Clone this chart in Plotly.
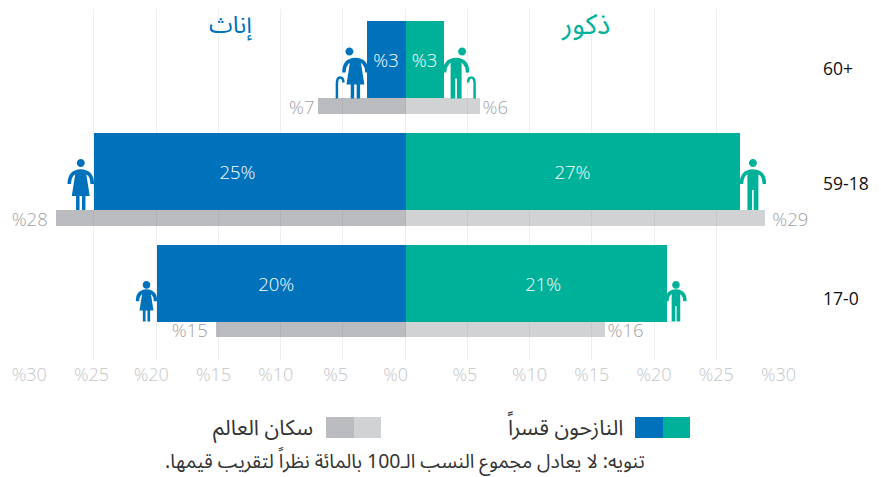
import plotly.graph_objects as go

W, H = 881, 477
PAGE = 8  # the page's own margin around the figure
FW, FH = W - PAGE, H - PAGE
categories = ["17-0", "59-18", "60+"]
female_displaced = [20, 25, 3.1]
male_displaced = [21, 26.9, 3.1]
female_world = [15.2, 28.05, 7]
male_world = [16, 28.9, 5.95]
female_labels = ["20%", "25%", "%3"]
male_labels = ["21%", "27%", "%3"]
female_world_labels = ["%15", "%28", "%7"]
male_world_labels = ["%16", "%29", "%6"]
tick_vals = [-30, -25, -20, -15, -10, -5, 0, 5, 10, 15, 20, 25, 30]
tick_text = ["%30", "%25", "%20", "%15", "%10", "%5", "%0", "%5", "%10", "%15", "%20", "%25", "%30"]

BLUE, GREEN = "#0072BC", "#00B19A"
GRAY_L, GRAY_R = "rgba(85,88,98,0.4)", "rgba(140,143,148,0.4)"
FONT = "Open Sans, Noto Sans, DejaVu Sans, sans-serif"
AR = "Noto Sans Arabic, DejaVu Sans, Noto Sans, sans-serif"
BAR_W, WORLD_W = 0.69, 0.14
BOT = -BAR_W / 2
NB = "\u00a0"


def pad(labels, before, after):
    """Optical nudges of a label, in no-break spaces."""
    return [NB * b + t + NB * a for t, b, a in zip(labels, before, after)]


def px(x):
    return (x - PAGE) / FW


def py(y):
    return 1 - (y - PAGE) / FH


def bar(vals, labels, color, width, offset, pos, font_color):
    return go.Bar(y=categories, x=vals, orientation="h", marker=dict(color=color, line_width=0),
                  width=width, offset=offset, text=labels, textposition=pos, textangle=0,
                  insidetextanchor="middle", constraintext="none", cliponaxis=False,
                  textfont=dict(family=FONT, size=18.5, color=font_color, weight=300), showlegend=False,
                  hoverinfo="skip")


fig = go.Figure()
neg = lambda a: [-v for v in a]
fig.add_trace(bar(neg(female_world), pad(female_world_labels, [0, 0, 0], [1, 1, 0]), GRAY_L, WORLD_W, BOT - WORLD_W, "outside", "#9FA1A4"))
fig.add_trace(bar(male_world, pad(male_world_labels, [0, 1, 0], [0, 0, 0]), GRAY_R, WORLD_W, BOT - WORLD_W, "outside", "#9FA1A4"))
fig.add_trace(bar(neg(female_displaced), pad(female_labels, [0, 0, 0], [2, 5, 0]), BLUE, BAR_W, BOT, "inside", "#FFFFFF"))
fig.add_trace(bar(male_displaced, pad(male_labels, [3, 0, 0], [0, 0, 0]), GREEN, BAR_W, BOT, "inside", "#FFFFFF"))

FOOT = 38.5  # px from the category centre to the bar bottom


def circle(cx, cy, r):
    k = 0.5523 * r
    return (f"M{cx-r},{cy} C{cx-r},{cy+k} {cx-k},{cy+r} {cx},{cy+r} C{cx+k},{cy+r} {cx+r},{cy+k} {cx+r},{cy} "
            f"C{cx+r},{cy-k} {cx+k},{cy-r} {cx},{cy-r} C{cx-k},{cy-r} {cx-r},{cy-k} {cx-r},{cy} Z")


def person(value, cat, female, color, side, centre, s=1.0, elder=False):
    """Icon next to the bar end: `centre` px outward, feet on the bar bottom."""
    cx = side * centre
    base = dict(type="path", xsizemode="pixel", ysizemode="pixel", xanchor=value * side, yanchor=cat,
                layer="above")
    Y = lambda v: round(v * s - FOOT, 2)
    X = lambda v: round(cx + v * s, 2)
    head = side * 6 if elder else 0
    out = []
    out.append(dict(base, path=circle(X(head), Y(47), 4 * max(s, .95)), fillcolor=color, line_width=0))
    out.append(dict(base, path=f"M{X(-11.5)},{Y(26)} Q{X(-11.5)},{Y(38.5)} {X(0)},{Y(39)} Q{X(11.5)},{Y(38.5)} {X(11.5)},{Y(26)}",
                    fillcolor="rgba(0,0,0,0)", line=dict(color=color, width=3.5)))
    if female:
        body = (f"M{X(-5)},{Y(39)} L{X(5)},{Y(39)} L{X(9)},{Y(14)} L{X(4.7)},{Y(14)} L{X(4.7)},{Y(0)} L{X(1.2)},{Y(0)} "
                f"L{X(1.2)},{Y(14)} L{X(-1.2)},{Y(14)} L{X(-1.2)},{Y(0)} L{X(-4.7)},{Y(0)} L{X(-4.7)},{Y(14)} L{X(-9)},{Y(14)} Z")
    else:
        body = (f"M{X(-5.5)},{Y(39)} L{X(5.5)},{Y(39)} L{X(5.5)},{Y(0)} L{X(0.8)},{Y(0)} L{X(0.8)},{Y(20)} "
                f"L{X(-0.8)},{Y(20)} L{X(-0.8)},{Y(0)} L{X(-5.5)},{Y(0)} Z")
    out.append(dict(base, path=body, fillcolor=color, line_width=0))
    if elder:
        c = cx + side * 18.5
        h = cx + side * 12
        out.append(dict(base, path=f"M{c},{Y(0)} L{c},{Y(15)} Q{c},{Y(21)} {(c+h)/2},{Y(21)} Q{h},{Y(21)} {h},{Y(16)}",
                        fillcolor="rgba(0,0,0,0)", line=dict(color=color, width=2.5)))
    return out


shapes = []
shapes += person(3.1, "60+", True, BLUE, -1, 11, elder=True)
shapes += person(3.1, "60+", False, GREEN, 1, 12.5, elder=True)
shapes += person(25, "59-18", True, BLUE, -1, 13)
shapes += person(26.9, "59-18", False, GREEN, 1, 13)
shapes += person(20, "17-0", True, BLUE, -1, 9.5, s=0.78)
shapes += person(21, "17-0", False, GREEN, 1, 9.5, s=0.78)


def swatch(x0, x1, color):
    return dict(type="rect", xref="paper", yref="paper", x0=px(x0), x1=px(x1), y0=py(438), y1=py(417),
                fillcolor=color, line_width=0)


shapes += [swatch(635, 663, BLUE), swatch(663, 690, GREEN), swatch(326, 354, GRAY_L), swatch(354, 381, GRAY_R)]


def note(text, x, y, size, color, anchor="center", family=AR, weight=400):
    return dict(text=text, xref="paper", yref="paper", x=px(x), y=py(y), xanchor=anchor, yanchor="middle",
                showarrow=False, font=dict(family=family, size=size, color=color, weight=weight))


annotations = [
    note("إناث", 231, 25, 24, BLUE),
    note("ذكور", 585, 25, 28, GREEN),
    note("60+", 821, 68, 17.5, "#111111", "left", FONT),
    note("59-18", 821, 183, 17.5, "#111111", "left", FONT),
    note("17-0", 821, 298, 17.5, "#111111", "left", FONT),
    note("\u200fالنازحون قسراً\u200f", 625, 428, 21.5, "#333333", "right"),
    note("\u200fسكان العالم\u200f", 315, 428, 21.5, "#333333", "right"),
    note("\u200fتنويه: لا يعادل مجموع النسب الـ100 بالمائة نظراً لتقريب قيمها.\u200f", 405, 461, 19.4, "#333333"),
]

tick_before = [0, 0, 0, 0, 0, 0, 0, 0, 0, 0, 0, 0, 0]
tick_after = [1, 1, 2, 2, 2, 3, 4, 1, 0, 0, 0, 0, 0]

fig.update_layout(
    width=FW, height=FH, margin=dict(l=0, r=0, t=0, b=0), paper_bgcolor="white", plot_bgcolor="white",
    barmode="overlay", bargap=0, shapes=shapes, annotations=annotations,
    font=dict(family=FONT),
    xaxis=dict(domain=[px(31.5), px(778.5)], range=[-30, 30], tickmode="array", tickvals=tick_vals,
               ticktext=pad(tick_text, tick_before, tick_after), ticklabelstandoff=2,
               showgrid=True, gridcolor="#EEEFF0", gridwidth=1, zeroline=False, showline=False, ticks="",
               tickfont=dict(family=FONT, size=18, color="#C4C5C7", weight=300), automargin=False),
    yaxis=dict(domain=[py(360), py(9)], type="category", categoryorder="array", categoryarray=categories,
               range=[-0.69, 2.457], showticklabels=False, showgrid=False, zeroline=False, showline=False,
               ticks="", automargin=False),
)
fig.write_html("out.html")
